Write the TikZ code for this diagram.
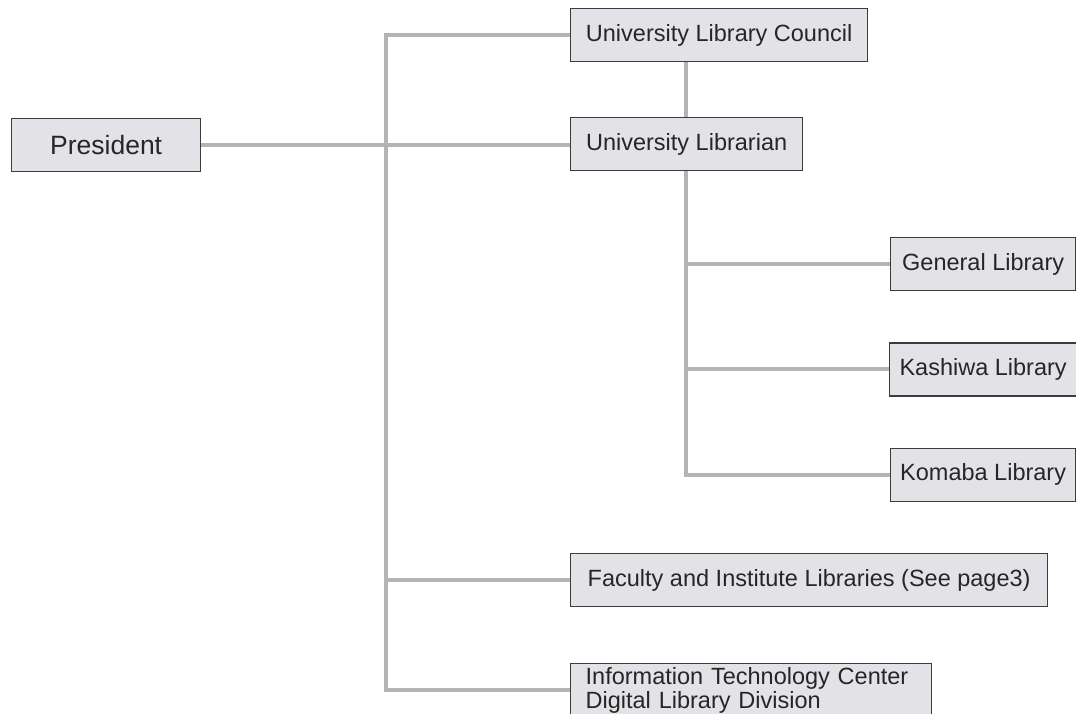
\documentclass[tikz,border=0pt]{standalone}
\usepackage{fontspec}
\setmainfont{Liberation Sans}
\usetikzlibrary{positioning}
\definecolor{boxfill}{HTML}{E3E3E7}
\definecolor{boxline}{HTML}{3C3C3C}
\definecolor{linkgray}{HTML}{B4B4B4}
\definecolor{labeltext}{HTML}{262626}

\begin{document}
\begin{tikzpicture}[x=1pt, y=-1pt, node distance=51pt,
  org node/.style={rectangle, draw=boxline, fill=boxfill, line width=1.3pt, text=labeltext, minimum height=53pt, inner xsep=10pt, align=left, anchor=north west, font=\fontsize{23.5}{24}\selectfont},
  lib node/.style={org node, minimum width=185pt},
  link/.style={draw=linkgray, line width=4pt}]

			\useasboundingbox (0,0) rectangle (1076,713);
			\clip (0,0) rectangle (1076,713);

			\node[org node, minimum width=189pt, font=\fontsize{26.5}{27}\selectfont] (pres) at (11,118) {President};
			\node[org node, minimum width=297pt] (council) at (570,8) {University Library Council};
			\node[org node, minimum width=232pt] (lib) at (570,117) {University Librarian};

			\node[lib node] (general) at (890,237) {General Library};
			\node[lib node] (kashiwa) [below=of general] {Kashiwa Library};
			\node[lib node] (komaba) [below=of kashiwa] {Komaba Library};

			\node[org node, minimum width=477pt] (fac) at (570,553) {Faculty and Institute Libraries (See page3)};
			\node[org node, inner xsep=15pt, text width=331pt] (itc) at (570,663) {Information Technology Center\\Digital Library Division};

			\coordinate (trunk) at (386,0);
			\coordinate (sub) at (686,0);

			% President line and main trunk
			\draw[link] (pres.east) -- (pres.east -| lib.west);
			\draw[link] (council.west) -- (council.west -| trunk) -- (itc.west -| trunk) -- (itc.west);
			\draw[link] (fac.west -| trunk) -- (fac.west);

			% Librarian branches
			\draw[link] (council.south -| sub) -- (lib.north -| sub);
			\draw[link] (lib.south -| sub) -- (komaba.west -| sub) -- (komaba.west);
			\foreach \n in {general, kashiwa}
				\draw[link] (\n.west -| sub) -- (\n.west);

		\end{tikzpicture}
\end{document}
